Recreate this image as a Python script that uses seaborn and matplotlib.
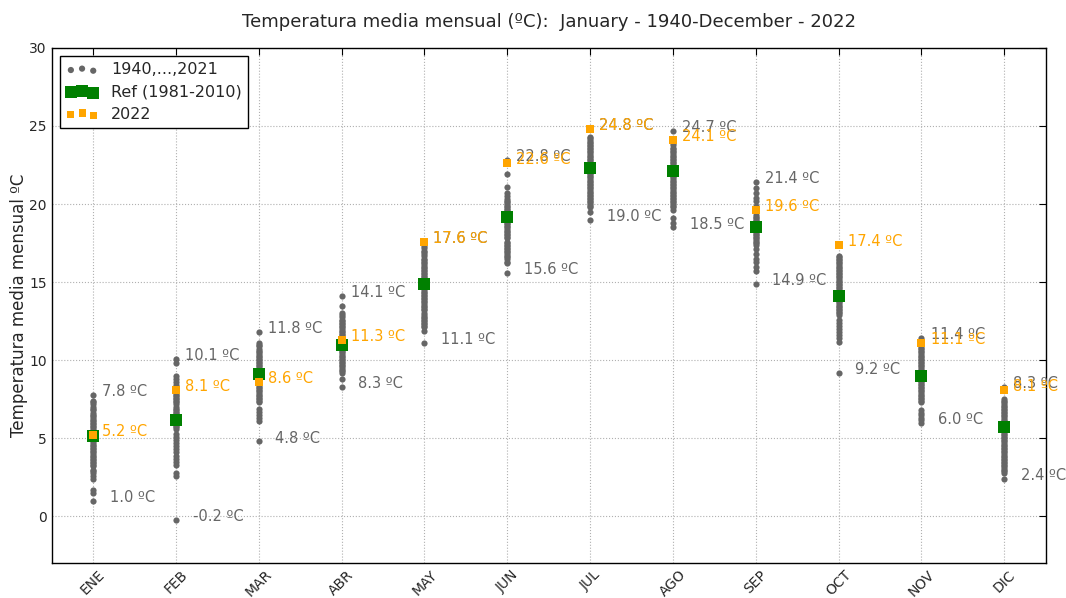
import numpy as np
import pandas as pd
import matplotlib
matplotlib.use("Agg")
import matplotlib.pyplot as plt
import seaborn as sns

months = ['ENE', 'FEB', 'MAR', 'ABR', 'MAY', 'JUN', 'JUL', 'AGO', 'SEP', 'OCT', 'NOV', 'DIC']

ene = [7.8, 7.4, 7.3, 7.2, 7.0, 6.9, 6.8, 6.6, 6.5, 6.4, 6.3, 6.2, 6.1, 6.0, 5.9, 5.8, 5.7, 5.6, 5.5, 5.4,
       5.3, 5.2, 5.1, 5.0, 4.9, 4.8, 4.7, 4.6, 4.5, 4.4, 4.3, 4.2, 4.1, 4.0, 3.9, 3.8, 3.7, 3.6, 3.5, 3.4,
       3.3, 3.2, 3.0, 2.9, 2.8, 2.6, 2.4, 1.7, 1.5, 1.0]
feb = [10.1, 9.8, 9.0, 8.8, 8.6, 8.4, 8.3, 8.2, 8.0, 7.9, 7.8, 7.7, 7.6, 7.5, 7.4, 7.3, 7.2, 7.0, 6.9, 6.8,
       6.7, 6.6, 6.5, 6.4, 6.3, 6.2, 6.0, 5.9, 5.8, 5.7, 5.6, 5.3, 5.1, 4.9, 4.7, 4.5, 4.3, 4.1, 3.9, 3.7,
       3.5, 3.3, 2.8, 2.6, -0.2]
mar = [11.8, 11.1, 11.0, 10.9, 10.7, 10.6, 10.5, 10.4, 10.3, 10.2, 10.1, 10.0, 9.9, 9.8, 9.7, 9.6, 9.5, 9.4,
       9.3, 9.2, 9.1, 9.0, 8.9, 8.8, 8.7, 8.5, 8.4, 8.3, 8.2, 8.1, 8.0, 7.9, 7.8, 7.7, 7.6, 7.5, 7.4, 7.3,
       6.9, 6.7, 6.5, 6.3, 6.1, 4.8]
abr = [14.1, 13.5, 13.0, 12.9, 12.8, 12.6, 12.5, 12.4, 12.3, 12.2, 12.1, 12.0, 11.9, 11.8, 11.7, 11.6, 11.5,
       11.4, 11.3, 11.2, 11.1, 11.0, 10.9, 10.8, 10.7, 10.6, 10.5, 10.4, 10.3, 10.2, 10.1, 10.0, 9.9, 9.8,
       9.7, 9.6, 9.5, 9.4, 9.3, 9.2, 8.8, 8.3]
may = [17.6, 17.3, 17.2, 17.0, 16.9, 16.8, 16.7, 16.5, 16.4, 16.3, 16.2, 16.1, 16.0, 15.9, 15.8, 15.7, 15.6,
       15.5, 15.4, 15.3, 15.2, 15.1, 15.0, 14.9, 14.8, 14.7, 14.6, 14.5, 14.4, 14.3, 14.2, 14.1, 14.0, 13.9,
       13.8, 13.7, 13.6, 13.5, 13.4, 13.3, 13.2, 13.0, 12.9, 12.8, 12.7, 12.6, 12.5, 12.4, 12.3, 12.2, 12.1,
       11.9, 11.1]
jun = [22.8, 21.9, 21.1, 20.7, 20.5, 20.3, 20.2, 20.1, 20.0, 19.9, 19.8, 19.7, 19.6, 19.5, 19.4, 19.3, 19.2,
       19.1, 19.0, 18.9, 18.8, 18.7, 18.6, 18.5, 18.4, 18.3, 18.2, 18.1, 18.0, 17.9, 17.8, 17.6, 17.5, 17.4,
       17.3, 17.2, 17.1, 17.0, 16.9, 16.8, 16.7, 16.6, 16.5, 16.3, 16.2, 15.6]
jul = [24.8, 24.3, 24.2, 24.1, 24.0, 23.9, 23.8, 23.7, 23.6, 23.5, 23.4, 23.3, 23.2, 23.1, 23.0, 22.9, 22.8,
       22.7, 22.6, 22.5, 22.4, 22.3, 22.2, 22.1, 22.0, 21.9, 21.8, 21.7, 21.6, 21.5, 21.4, 21.3, 21.2, 21.1,
       21.0, 20.9, 20.8, 20.7, 20.6, 20.5, 20.4, 20.3, 20.2, 20.1, 20.0, 19.9, 19.8, 19.5, 19.0]
ago = [24.7, 23.9, 23.8, 23.6, 23.5, 23.4, 23.3, 23.2, 23.1, 23.0, 22.9, 22.8, 22.7, 22.6, 22.5, 22.4, 22.3,
       22.2, 22.1, 22.0, 21.9, 21.8, 21.7, 21.6, 21.5, 21.4, 21.3, 21.2, 21.1, 21.0, 20.9, 20.8, 20.7, 20.6,
       20.5, 20.4, 20.3, 20.2, 20.1, 20.0, 19.9, 19.8, 19.6, 19.1, 18.8, 18.5]
sep = [21.4, 21.0, 20.7, 20.4, 20.2, 19.9, 19.3, 19.2, 19.1, 19.0, 18.9, 18.8, 18.7, 18.6, 18.5, 18.4, 18.3,
       18.2, 18.1, 18.0, 17.9, 17.8, 17.7, 17.6, 17.5, 17.4, 17.1, 16.8, 16.5, 16.3, 16.0, 15.7, 14.9]
octu = [16.7, 16.6, 16.5, 16.4, 16.3, 16.2, 16.1, 16.0, 15.9, 15.8, 15.7, 15.6, 15.5, 15.4, 15.3, 15.2, 15.1,
        15.0, 14.9, 14.8, 14.7, 14.6, 14.5, 14.4, 14.3, 14.2, 14.1, 14.0, 13.9, 13.8, 13.7, 13.6, 13.5, 13.4,
        13.3, 13.2, 13.1, 13.0, 12.9, 12.6, 12.4, 12.2, 12.0, 11.8, 11.6, 11.4, 11.2, 9.2]
nov = [11.4, 10.9, 10.8, 10.7, 10.6, 10.5, 10.4, 10.3, 10.2, 10.1, 10.0, 9.9, 9.8, 9.7, 9.6, 9.5, 9.4, 9.3,
       9.2, 9.1, 9.0, 8.9, 8.8, 8.7, 8.6, 8.5, 8.4, 8.3, 8.2, 8.1, 8.0, 7.9, 7.8, 7.7, 7.6, 7.5, 7.4, 7.3,
       6.8, 6.6, 6.5, 6.3, 6.2, 6.0]
dic = [8.3, 7.5, 7.4, 7.3, 7.2, 7.1, 7.0, 6.9, 6.8, 6.7, 6.6, 6.5, 6.4, 6.3, 6.2, 6.1, 6.0, 5.9, 5.8, 5.7,
       5.6, 5.5, 5.4, 5.3, 5.2, 5.1, 5.0, 4.9, 4.8, 4.7, 4.6, 4.5, 4.4, 4.3, 4.2, 4.1, 4.0, 3.9, 3.8, 3.7,
       3.6, 3.5, 3.4, 3.3, 3.2, 3.1, 3.0, 2.9, 2.8, 2.4]

ref_1981_2010 = [5.15, 6.2, 9.1, 11.0, 14.9, 19.2, 22.3, 22.1, 18.5, 14.1, 9.0, 5.7]
year_2022 = [5.2, 8.1, 8.6, 11.3, 17.6, 22.6, 24.8, 24.1, 19.6, 17.4, 11.1, 8.1]

history = [ene, feb, mar, abr, may, jun, jul, ago, sep, octu, nov, dic]

# ---- build tables ----
rows = []
for i, vals in enumerate(history):
    for v in vals:
        rows.append((i, v))
df_hist = pd.DataFrame(rows, columns=['pos', 'temp'])
df_ref = pd.DataFrame({'pos': np.arange(len(months)), 'temp': ref_1981_2010})
df_22 = pd.DataFrame({'pos': np.arange(len(months)), 'temp': year_2022})

sns.set_style('white')
plt.rcParams['font.family'] = ['DejaVu Sans']

fig = plt.figure(figsize=(10.66, 5.98), dpi=100)
ax = fig.add_axes([0.0485, 0.058, 0.9325, 0.862])

gray = '#666666'
sns.scatterplot(data=df_hist, x='pos', y='temp', ax=ax, color=gray, s=20, linewidth=0,
                marker='o', label='1940,...,2021', zorder=3)
sns.scatterplot(data=df_ref, x='pos', y='temp', ax=ax, color='green', s=80, linewidth=0,
                marker='s', label='Ref (1981-2010)', zorder=4)
sns.scatterplot(data=df_22, x='pos', y='temp', ax=ax, color='orange', s=26, linewidth=0,
                marker='s', label='2022', zorder=5)

# ---- value labels ----
fs = 10.5
for i, vals in enumerate(history):
    vmax, vmin = max(vals), min(vals)
    if vmax >= year_2022[i]:
        ax.annotate(f"{vmax:.1f} ºC", (i, vmax), xytext=(6.5, 2.5), textcoords='offset points',
                    color=gray, fontsize=fs, va='center', ha='left', zorder=6)
    ax.annotate(f"{vmin:.1f} ºC", (i, vmin), xytext=(12, 2.5), textcoords='offset points',
                color=gray, fontsize=fs, va='center', ha='left', zorder=6)
for i, v in enumerate(year_2022):
    ax.annotate(f"{v:.1f} ºC", (i, v), xytext=(6.5, 2.5), textcoords='offset points',
                color='orange', fontsize=fs, va='center', ha='left', zorder=7)

ax.set_xlim(-0.5, 11.5)
ax.set_ylim(-3, 30)
ax.set_xticks(np.arange(len(months)))
ax.set_xticklabels(months, rotation=45, fontsize=10)
ax.set_yticks([0, 5, 10, 15, 20, 25, 30])
ax.tick_params(axis='y', labelsize=10)
ax.tick_params(direction='in', top=True, right=True, length=5, width=0.8, color='black')
ax.tick_params(axis='x', pad=3)
ax.set_xlabel('')
ax.set_ylabel('Temperatura media mensual ºC', fontsize=12, labelpad=1)
ax.set_title('Temperatura media mensual (ºC):  January - 1940-December - 2022', fontsize=13, pad=15)
ax.grid(True, linestyle=':', color='#b0b0b0', linewidth=0.8)
for sp in ax.spines.values():
    sp.set_color('black')
    sp.set_linewidth(1.0)

leg = ax.legend(loc='upper left', scatterpoints=3, scatteryoffsets=[0.375, 0.5, 0.3125],
                fontsize=11.5, frameon=True, fancybox=False, framealpha=1, edgecolor='black',
                labelspacing=0.45, borderaxespad=0.5)
leg.get_frame().set_linewidth(1.0)

fig.savefig('out.png', dpi=100)
